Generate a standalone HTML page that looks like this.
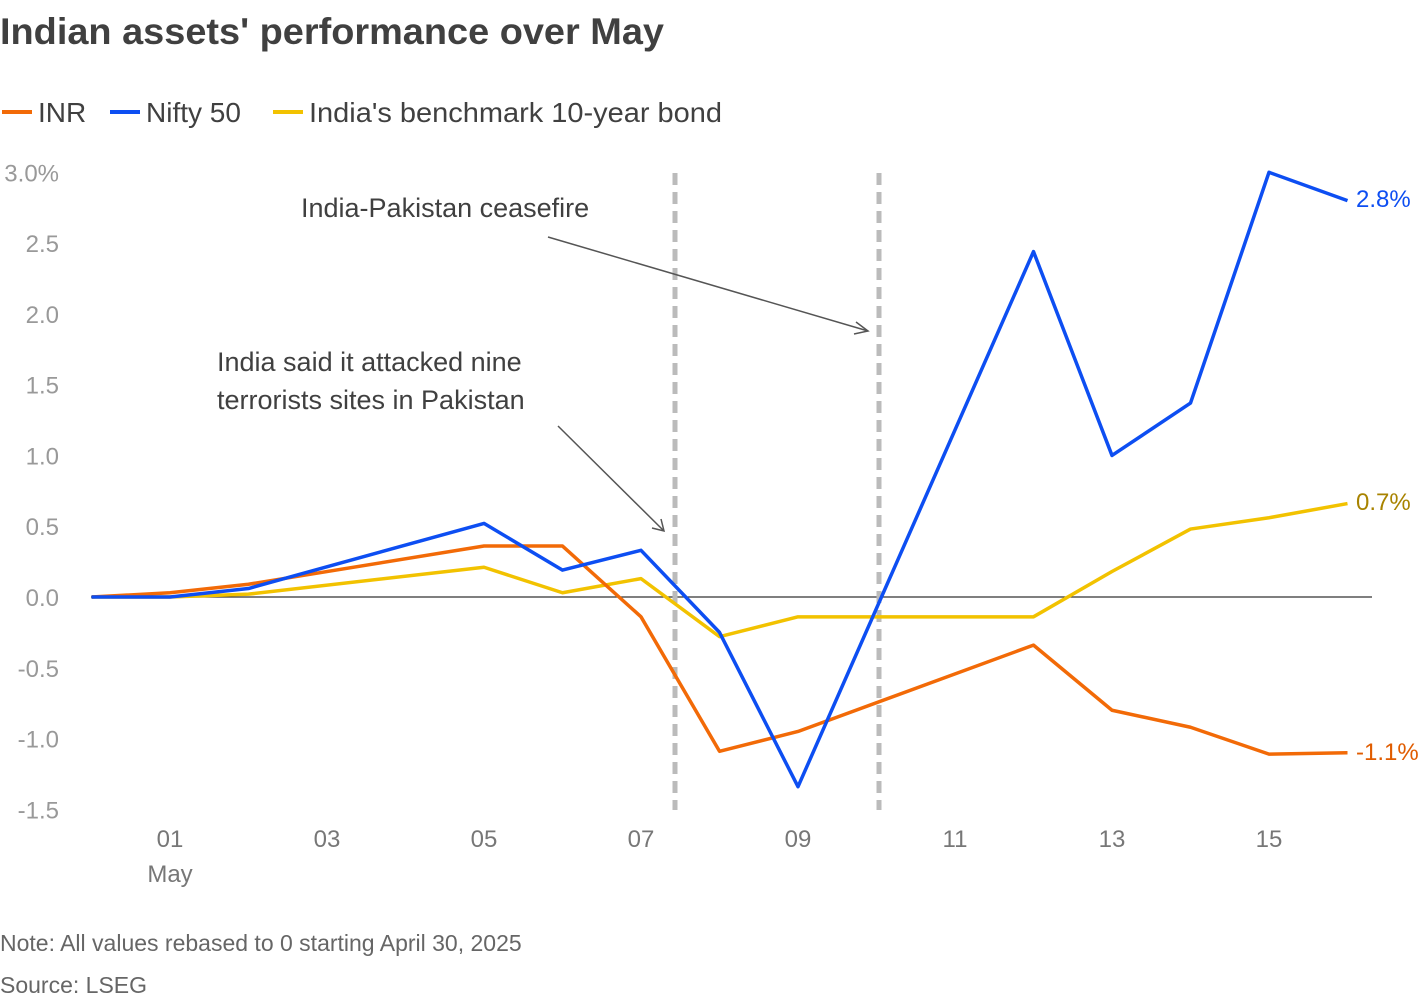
<!DOCTYPE html>
<html><head><meta charset="utf-8"><style>
body{margin:0;background:#fff;width:1420px;height:1000px;overflow:hidden;font-family:"Liberation Sans",sans-serif}
</style></head><body>
<svg width="1420" height="1000" style="font-family:'Liberation Sans',sans-serif">
<text x="0" y="44" font-size="37" font-weight="bold" fill="#404040" textLength="664" lengthAdjust="spacingAndGlyphs">Indian assets' performance over May</text>
<g font-size="28" fill="#404040">
<line x1="2" y1="112" x2="32" y2="112" stroke="#f26a07" stroke-width="4"/>
<text x="38" y="122">INR</text>
<line x1="110" y1="112" x2="140" y2="112" stroke="#0d4ef2" stroke-width="4"/>
<text x="146" y="122">Nifty 50</text>
<line x1="273" y1="112" x2="303" y2="112" stroke="#f2c200" stroke-width="4"/>
<text x="309" y="122" textLength="413" lengthAdjust="spacingAndGlyphs">India's benchmark 10-year bond</text>
</g>
<g id="yaxis"></g>
<g id="xaxis"></g>
<line x1="91" y1="597" x2="1372" y2="597" stroke="#333" stroke-width="1.2"/>
<line x1="675" y1="173" x2="675" y2="810" stroke="#bbb" stroke-width="5" stroke-dasharray="12,7"/>
<line x1="879" y1="173" x2="879" y2="810" stroke="#bbb" stroke-width="5" stroke-dasharray="12,7"/>
<g id="series"></g>
<g font-size="27" fill="#404040">
<text x="301" y="217">India-Pakistan ceasefire</text>
<text x="217" y="371">India said it attacked nine</text>
<text x="217" y="409">terrorists sites in Pakistan</text>
</g>
<g stroke="#555" stroke-width="1.5" fill="none">
<line x1="548" y1="237" x2="868" y2="331"/><polyline points="856,322 868,331 854,334"/>
<line x1="558" y1="426" x2="664" y2="531"/><polyline points="652,528 664,531 661,519"/>
</g>
<g font-size="24">
<text x="1356" y="207" fill="#0d4ef2">2.8%</text>
<text x="1356" y="510" fill="#a88300">0.7%</text>
<text x="1356" y="760" fill="#e05c00">-1.1%</text>
</g>
<text x="0" y="951" font-size="23" fill="#666">Note: All values rebased to 0 starting April 30, 2025</text>
<text x="0" y="993" font-size="23" fill="#666">Source: LSEG</text>
</svg>
<script>
const dayOffsets=[0,1,2,5,6,7,8,9,12,13,14,15,16];
const inr=[0,0.03,0.09,0.36,0.36,-0.14,-1.09,-0.95,-0.34,-0.80,-0.92,-1.11,-1.10];
const nifty=[0,0,0.06,0.52,0.19,0.33,-0.25,-1.34,2.44,1.0,1.37,3.0,2.8];
const bond=[0,0,0.02,0.21,0.03,0.13,-0.28,-0.14,-0.14,0.18,0.48,0.56,0.66];
const yTicks=[3.0,2.5,2.0,1.5,1.0,0.5,0.0,-0.5,-1.0,-1.5];
const yTickLabels=["3.0%","2.5","2.0","1.5","1.0","0.5","0.0","-0.5","-1.0","-1.5"];
const xTickDays=[1,3,5,7,9,11,13,15];
const xTickLabels=["01","03","05","07","09","11","13","15"];
const NS="http://www.w3.org/2000/svg";
const xS=d=>91.5+d*78.5;
const yS=v=>597-v*141.56;
const ya=document.getElementById('yaxis');
yTicks.forEach((v,i)=>{const t=document.createElementNS(NS,'text');


t.setAttribute('x',59);t.setAttribute('y',yS(v)+9);t.setAttribute('text-anchor','end');
t.setAttribute('font-size','24');t.setAttribute('fill','#999');t.textContent=yTickLabels[i];ya.appendChild(t);});
const xa=document.getElementById('xaxis');
xTickDays.forEach((d,i)=>{const t=document.createElementNS(NS,'text');


t.setAttribute('x',xS(d));t.setAttribute('y',847);t.setAttribute('text-anchor','middle');
t.setAttribute('font-size','24');t.setAttribute('fill','#777');t.textContent=xTickLabels[i];xa.appendChild(t);});
const m=document.createElementNS(NS,'text');


m.setAttribute('x',xS(1));m.setAttribute('y',882);m.setAttribute('text-anchor','middle');m.setAttribute('font-size','24');m.setAttribute('fill','#777');m.textContent='May';xa.appendChild(m);
const sg=document.getElementById('series');
[[bond,'#f2c200','bond-line'],[inr,'#f26a07','inr-line'],[nifty,'#0d4ef2','nifty-line']].forEach(([vals,c,n])=>{
const p=document.createElementNS(NS,'polyline');


p.setAttribute('points',vals.map((v,i)=>xS(dayOffsets[i])+','+yS(v)).join(' '));
p.setAttribute('fill','none');p.setAttribute('stroke',c);p.setAttribute('stroke-width','3.5');p.setAttribute('stroke-linejoin','round');sg.appendChild(p);});
</script>
</body></html>
